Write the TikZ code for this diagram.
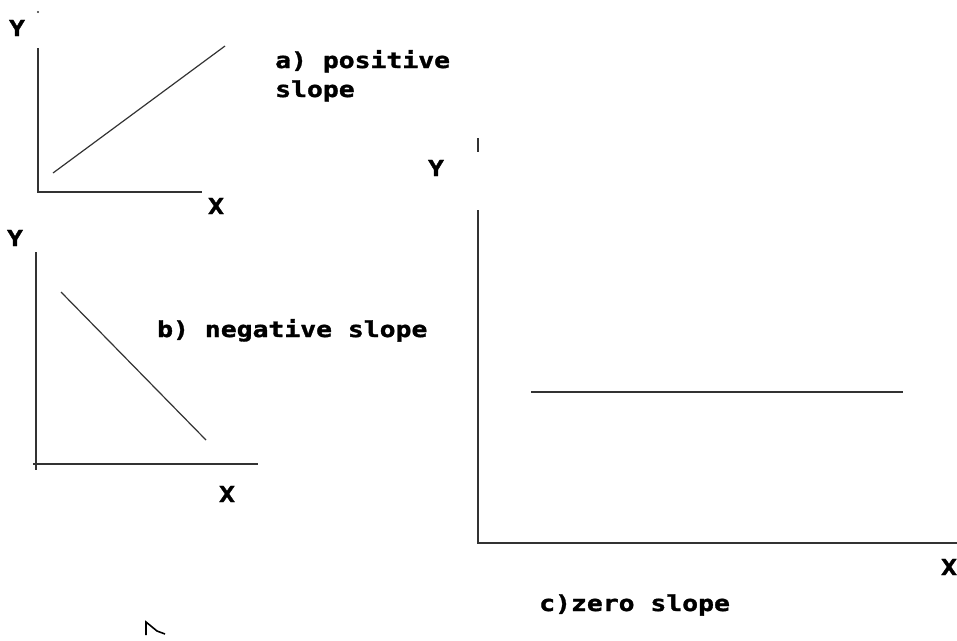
\documentclass[tikz,border=0pt]{standalone}
\usepackage{fontspec}
\newfontfamily\pixfont[FakeStretch=1.2,FakeBold=1.5]{DejaVu Sans Mono Bold}
\begin{document}
\begin{tikzpicture}[x=1pt,y=-1pt,
  lbl/.style={font=\pixfont\fontsize{22}{24}\selectfont, inner sep=0pt, text=black},
  txt/.style={lbl, anchor=base west},
  axis/.style={line width=1.8pt, draw=black!80},
  data/.style={line width=1.2pt, draw=black!80}]
\useasboundingbox (0,0) rectangle (957,640);
% graph a
\coordinate (aO) at (38,192);
\coordinate (aY) at (38,48);
\coordinate (aX) at (202,192);
\coordinate (aL1) at (53,173);
\coordinate (aL2) at (225,46);
\draw[axis] (aY) -- (aO) -- (aX);
\draw[data] (aL1) -- (aL2);
\fill[black!80] (38,12) circle (1.2pt);
\node[lbl] (ay) at (17,28) {Y};
\node[lbl] (ax) at (216,206) {X};
\node[txt] (at1) at (275,68) {a) positive};
\node[txt] (at2) at (275,97) {slope};
% graph b
\coordinate (bY) at (36,252);
\coordinate (bO2) at (33,464);
\coordinate (bX) at (258,464);
\coordinate (bYb) at (36,470);
\coordinate (bL1) at (61,292);
\coordinate (bL2) at (206,440);
\draw[axis] (bY) -- (bYb);
\draw[axis] (bO2) -- (bX);
\draw[data] (bL1) -- (bL2);
\node[lbl] (by) at (15,238) {Y};
\node[lbl] (bx) at (227,494) {X};
\node[txt] (bt) at (157,337) {b) negative slope};
% graph c
\coordinate (cT1) at (478,138);
\coordinate (cT2) at (478,152);
\coordinate (cY) at (478,210);
\coordinate (cO) at (478,543);
\coordinate (cX) at (957,543);
\coordinate (cL1) at (531,392);
\coordinate (cL2) at (903,392);
\draw[axis] (cT1) -- (cT2);
\draw[axis] (cY) -- (cO) -- (cX);
\draw[data] (cL1) -- (cL2);
\node[lbl] (cy) at (436,168) {Y};
\node[lbl] (cx) at (949,567) {X};
\node[txt] (ct) at (539,611) {c)zero slope};
% cursor fragment
\draw[line width=1.6pt, black] (146,635) -- (146,622) -- (157,631) -- (165,634);
\end{tikzpicture}
\end{document}
